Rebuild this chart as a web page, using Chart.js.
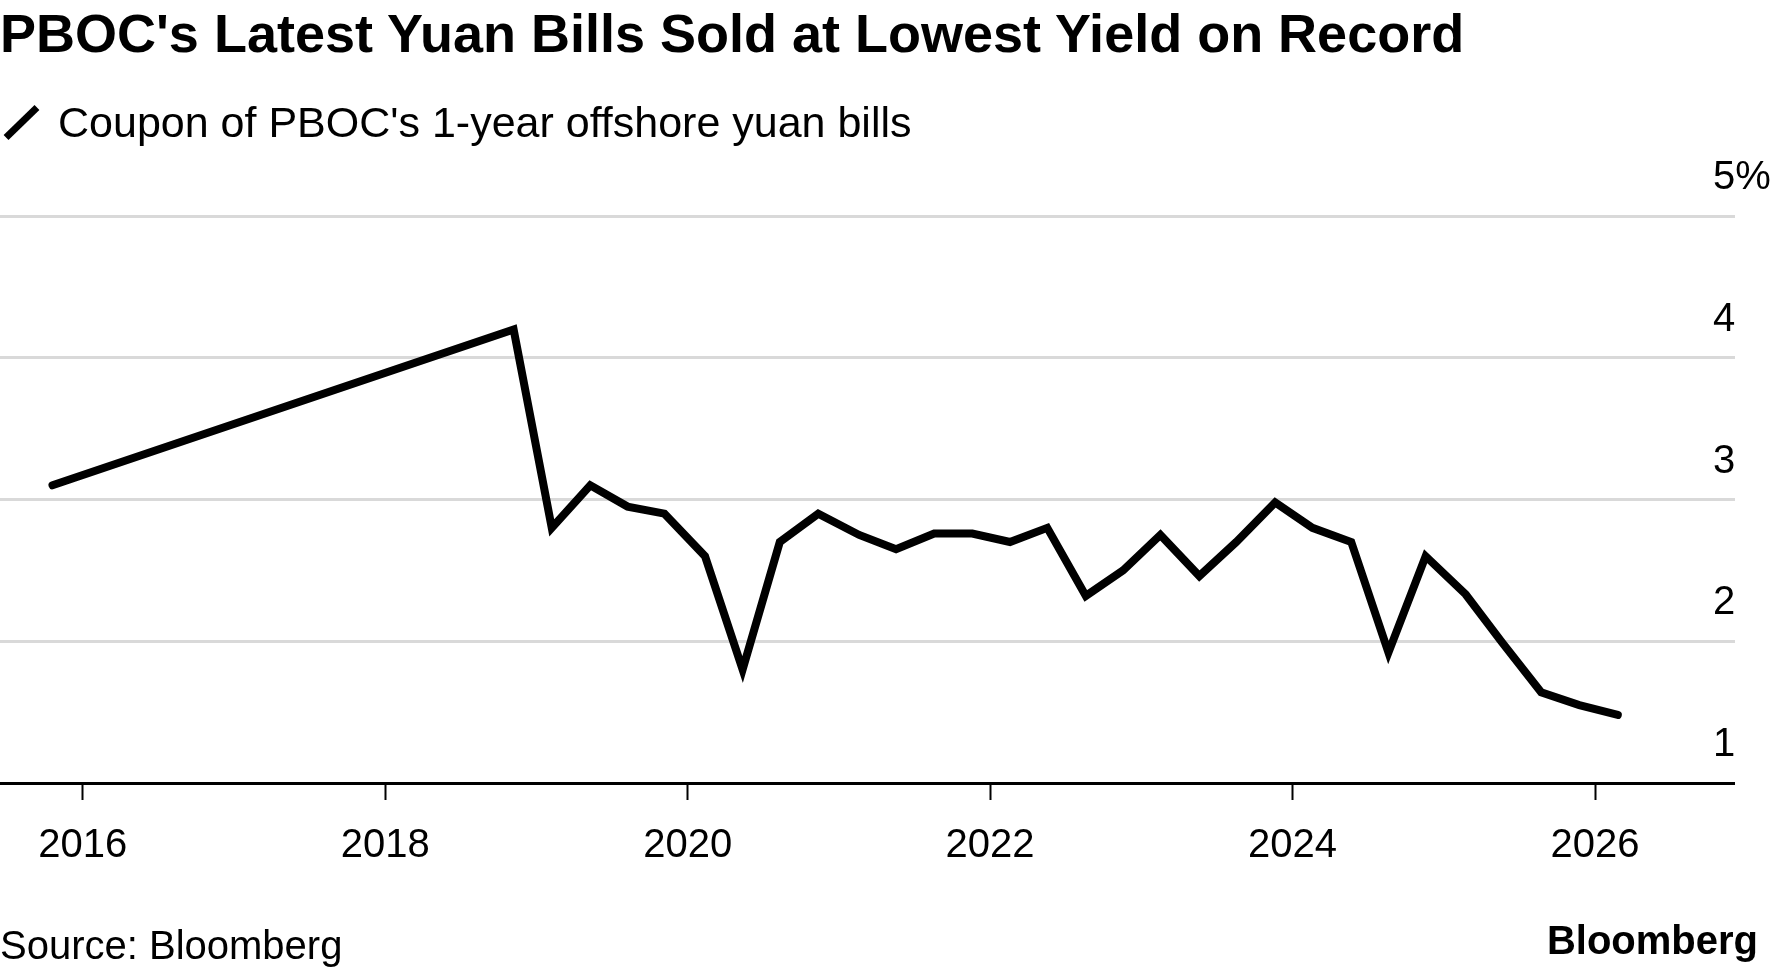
<!DOCTYPE html>
<html>
<head>
<meta charset="utf-8">
<script src="https://cdn.jsdelivr.net/npm/chart.js@4/dist/chart.umd.min.js"></script>
<style>
  html, body { margin: 0; padding: 0; background: #fff; }
  body { width: 1776px; height: 972px; position: relative; overflow: hidden;
         font-family: "Liberation Sans", Arial, Helvetica, sans-serif; color: #000; }
  #chart { position: absolute; left: 0; top: 0; }
  .txt { position: absolute; white-space: nowrap; line-height: 1; }
  #title { left: 0; top: 6px; font-size: 54px; font-weight: bold; }
  #subtitle { left: 58px; top: 101px; font-size: 43px; }
  #swatch { position: absolute; left: 0; top: 119px; width: 43px; height: 7px; background: #000;
            transform: rotate(-44deg); transform-origin: 21.5px 3.5px; }
  #source { left: 0; top: 925px; font-size: 40px; }
  #logo { right: 18px; top: 920px; font-size: 40px; font-weight: bold; }
</style>
</head>
<body>
<canvas id="chart" width="1776" height="972"></canvas>
<div class="txt" id="title">PBOC's Latest Yuan Bills Sold at Lowest Yield on Record</div>
<div id="swatch"></div>
<div class="txt" id="subtitle">Coupon of PBOC's 1-year offshore yuan bills</div>
<div class="txt" id="source">Source: Bloomberg</div>
<div class="txt" id="logo">Bloomberg</div>
<script>
// auction dates and 1-year coupon (%)
var dates = [
  "2015-10-20", "2018-11-07", "2019-02-07", "2019-05-11", "2019-08-09", "2019-11-06",
  "2020-02-12", "2020-05-13", "2020-08-11", "2020-11-12", "2021-02-19", "2021-05-19",
  "2021-08-19", "2021-11-19", "2022-02-18", "2022-05-19", "2022-08-20", "2022-11-18",
  "2023-02-16", "2023-05-21", "2023-08-18", "2023-11-20", "2024-02-18", "2024-05-22",
  "2024-08-20", "2024-11-18", "2025-02-23", "2025-05-22", "2025-08-24", "2025-11-24",
  "2026-02-25"
];
var coupon = [
  3.10, 4.20, 2.80, 3.10, 2.95, 2.90,
  2.60, 1.80, 2.70, 2.90, 2.75, 2.65,
  2.76, 2.76, 2.70, 2.80, 2.32, 2.50,
  2.75, 2.46, 2.70, 2.98, 2.80, 2.70,
  1.92, 2.60, 2.33, 1.99, 1.64, 1.55,
  1.48
];
var xTicks = [2016, 2018, 2020, 2022, 2024, 2026];
var yTicks = [1, 2, 3, 4, 5];

var fontFamily = '"Liberation Sans", Arial, Helvetica, sans-serif';

function toYear(s) {
    var d = new Date(s + "T00:00:00Z");
    var y = d.getUTCFullYear();
    var start = Date.UTC(y, 0, 1);
    var end = Date.UTC(y + 1, 0, 1);
    return y + (d.getTime() - start) / (end - start);
}

var points = [];
for (var i in dates) {
    points.push({ x: toYear(dates[i]), y: coupon[i] });
}

var ctx = document.getElementById("chart").getContext("2d");
var chart = new Chart(ctx, {
    type: "line",
    data: {
        datasets: [{
            label: "Coupon of PBOC's 1-year offshore yuan bills",
            data: points,
            borderColor: "#000",
            backgroundColor: "#000",
            borderWidth: 8,
            borderJoinStyle: "miter",
            borderCapStyle: "round",
            pointRadius: 0,
            tension: 0,
            fill: false
        }]
    },
    options: {
        responsive: false,
        animation: false,
        devicePixelRatio: 1,
        layout: { padding: { top: 216, bottom: 89, left: 0, right: 0 } },
        plugins: {
            legend: { display: false },
            tooltip: { enabled: false }
        },
        scales: {
            x: {
                type: "linear",
                min: 2015.453,
                max: 2026.78,
                afterBuildTicks: function(s) { s.ticks = xTicks.map(function(v) { return { value: v }; }); },
                afterFit: function(s) { s.height = 100; },
                grid: { drawOnChartArea: false, drawTicks: true, tickLength: 17, tickColor: "#000", tickWidth: 2 },
                border: { display: true, color: "#000", width: 3 },
                ticks: {
                    color: "#000",
                    font: { family: fontFamily, size: 40 },
                    padding: 22,
                    maxRotation: 0,
                    autoSkip: false,
                    callback: function(v) { return String(v); }
                }
            },
            y: {
                position: "right",
                min: 1,
                max: 5,
                afterBuildTicks: function(s) { s.ticks = yTicks.map(function(v) { return { value: v }; }); },
                afterFit: function(s) { s.width = 63; },
                grid: {
                    color: function(c) { return c.tick && c.tick.value === 1 ? "rgba(0,0,0,0)" : "#d9d9d9"; },
                    tickColor: function(c) { return c.tick && c.tick.value === 1 ? "#000" : "#d9d9d9"; },
                    lineWidth: 3,
                    tickWidth: 3,
                    drawTicks: true,
                    tickLength: 22
                },
                border: { display: false },
                ticks: {
                    color: "#000",
                    font: { family: fontFamily, size: 40 },
                    padding: -22,
                    labelOffset: -38,
                    callback: function(v) { return v === 5 ? "5%" : String(v); }
                }
            }
        }
    }
});
</script>
</body>
</html>
